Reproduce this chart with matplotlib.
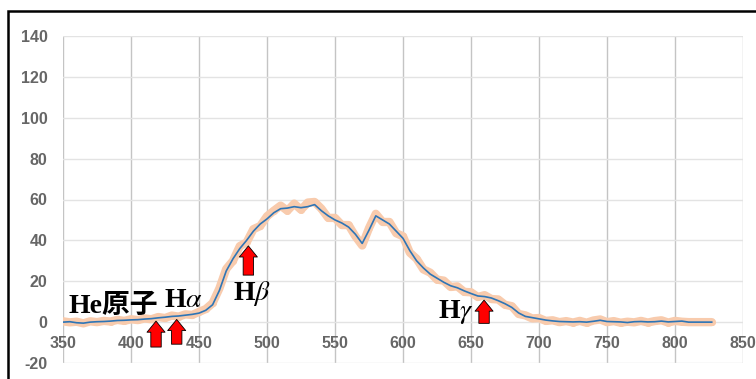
import matplotlib
matplotlib.use("Agg")
import matplotlib.pyplot as plt
from matplotlib.patches import Rectangle

plt.rcParams['axes.unicode_minus'] = False
plt.rcParams['mathtext.fontset'] = 'stix'

# wavelength (nm)
wavelength = [350, 355, 360, 365, 370, 375, 380, 385, 390, 395,
              400, 405, 410, 415, 420, 425, 430, 435, 440, 445,
              450, 455, 460, 465, 470, 475, 480, 485, 490, 495,
              500, 505, 510, 515, 520, 525, 530, 535, 540, 545,
              550, 555, 560, 565, 570, 575, 580, 585, 590, 595,
              600, 605, 610, 615, 620, 625, 630, 635, 640, 645,
              650, 655, 660, 665, 670, 675, 680, 685, 690, 695,
              700, 705, 710, 715, 720, 725, 730, 735, 740, 745,
              750, 755, 760, 765, 770, 775, 780, 785, 790, 795,
              800, 805, 810, 815, 820, 827]

# smoothed intensity (blue line)
smoothed = [0.0, 0.2, -0.3, -0.5, 0.0, 0.2, 0.3, 0.5, 0.8, 0.9,
            1.1, 1.2, 1.5, 1.7, 2.1, 2.4, 2.8, 3.0, 3.4, 3.8,
            4.4, 5.8, 8.5, 15.5, 25.0, 31.0, 36.0, 40.0, 44.5, 48.0,
            50.5, 53.5, 55.5, 55.8, 56.5, 56.0, 56.5, 57.5, 54.5, 52.0,
            50.0, 48.5, 46.5, 43.0, 38.5, 45.0, 52.0, 50.0, 48.0, 44.5,
            41.0, 35.0, 30.0, 26.5, 23.5, 21.5, 19.5, 17.8, 16.8, 15.3,
            14.0, 12.8, 12.5, 11.8, 10.5, 9.0, 7.2, 4.5, 2.8, 2.2,
            1.6, 1.0, 0.6, 0.3, 0.2, 0.1, 0.2, 0.0, 0.4, 0.9,
            0.3, 0.2, 0.1, -0.2, 0.2, 0.3, 0.1, 0.2, 0.5, 0.1,
            0.3, 0.5, 0.0, 0.0, 0.0, 0.0]

# raw intensity (orange points)
raw = [0.4, -0.1, 0.2, -0.6, 0.4, 0.0, 0.6, 0.3, 1.1, 0.6,
       1.4, 1.0, 1.8, 1.4, 2.5, 2.0, 3.2, 2.7, 3.8, 3.5,
       5.0, 6.4, 9.3, 16.5, 26.0, 30.0, 37.2, 39.0, 45.5, 47.0,
       51.8, 54.5, 57.0, 54.5, 58.0, 55.0, 58.5, 58.8, 55.5, 51.0,
       51.0, 47.5, 47.5, 42.0, 37.5, 46.0, 53.0, 49.0, 49.0, 43.5,
       42.0, 34.0, 31.0, 25.8, 24.2, 20.8, 20.3, 17.2, 17.5, 14.8,
       14.6, 12.3, 13.2, 11.3, 11.1, 8.5, 7.8, 4.0, 3.3, 1.8,
       2.0, 0.6, 0.9, 0.0, 0.5, -0.2, 0.6, -0.3, 0.8, 1.3,
       0.0, 0.5, -0.3, 0.2, -0.1, 0.6, -0.2, 0.5, 0.9, -0.2,
       0.6, 0.2, 0.0, 0.0, 0.0, 0.0]

# labels: text, x, baseline y
labels = [('He原子', 354, 4.4), ('H$\\mathit{\\alpha}$', 424, 7.5),
          ('H$\\mathit{\\beta}$', 475, 10.8), ('H$\\mathit{\\gamma}$', 625.5, 1.8)]
# arrows: x, bottom, tip
arrows = [(418.4, -12.2, 0.5), (433.6, -10.8, 1.3), (486.3, 23.0, 37.3), (659.6, -0.6, 10.8)]

fig = plt.figure(figsize=(7.56, 3.79), dpi=100)
ax = fig.add_axes([63/756, 1 - 363/379, 680/756, 327/379])

ax.plot(wavelength, raw, color='#f8cbad', lw=6, marker='o', ms=4,
        solid_capstyle='round', solid_joinstyle='round', zorder=2)
ax.plot(wavelength, smoothed, color='#2e75b6', lw=1.2, zorder=3)

ax.set_xlim(350, 850)
ax.set_ylim(-20, 140)
ax.set_xticks(range(350, 851, 50))
ax.set_yticks(range(-20, 141, 20))
ax.grid(axis='y', color='#e3e3e3', lw=1)
ax.grid(axis='x', color='#c4c4c4', lw=1)
ax.set_axisbelow(True)
for s in ['top', 'right', 'left']:
    ax.spines[s].set_visible(False)
ax.spines['bottom'].set_position(('data', 0))
ax.spines['bottom'].set_visible(False)
ax.tick_params(length=0, labelcolor='#666666', labelsize=11.5)
ax.tick_params(axis='x', pad=10)
ax.tick_params(axis='y', pad=11)
for lab in ax.get_xticklabels() + ax.get_yticklabels():
    lab.set_fontfamily('Liberation Sans')
    lab.set_fontweight('bold')

for txt, x, y in labels:
    ax.text(x, y, txt, fontsize=20, va='baseline', ha='left', color='black',
            family=['Liberation Serif', 'Noto Sans CJK JP'], fontweight='bold', zorder=5)

for x, y0, y1 in arrows:
    ax.annotate('', xy=(x, y1), xytext=(x, y0),
                arrowprops=dict(arrowstyle='simple,head_width=1.3,head_length=0.8,tail_width=0.75',
                                fc='#ff0000', ec='#000000', lw=0.6,
                                shrinkA=0, shrinkB=0, mutation_scale=10),
                zorder=6)

fig.add_artist(Rectangle((8/756, -0.1), 1.2, 1.1 - 11/379, transform=fig.transFigure,
                         fill=False, ec='black', lw=1.8))

fig.savefig('out.png', dpi=100)
